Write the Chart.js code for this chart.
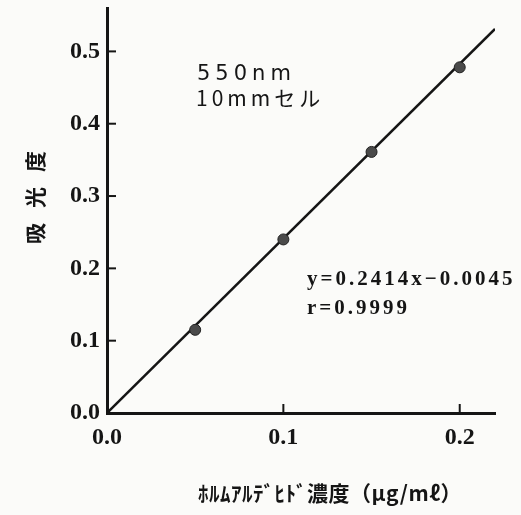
<!DOCTYPE html>
<html lang="ja">
<head>
<meta charset="utf-8">
<title>吸光度 検量線</title>
<script src="https://cdn.jsdelivr.net/npm/chart.js@4/dist/chart.umd.min.js"></script>
<style>
    html, body { margin: 0; padding: 0; background: #fbfbf9; }
    #wrap { width: 521px; height: 515px; }
</style>
</head>
<body>
<div id="wrap"><canvas id="calChart" width="521" height="515"></canvas></div>
<script>
// Dados
const concentration = [0.05, 0.10, 0.15, 0.20];      // μg/ml
const absorbance = [0.115, 0.240, 0.361, 0.478];
const fitX = [0, 0.22];
const fitY = [0, 0.531];
const xTicks = [0.0, 0.1, 0.2];
const yTicks = [0.0, 0.1, 0.2, 0.3, 0.4, 0.5];

const INK = '#151515';
const SERIF = '"Liberation Serif", "DejaVu Serif", serif';
const JP = '"Noto Sans CJK JP", "Noto Sans", sans-serif';

// Marcas internas dos eixos + textos do gráfico
const decorPlugin = {
    id: 'decor',
    beforeDraw(chart) {
        const ctx = chart.ctx;
        ctx.save();
        ctx.fillStyle = '#fbfbf9';
        ctx.fillRect(0, 0, chart.width, chart.height);
        ctx.restore();
    },
    afterDatasetsDraw(chart) {
        const ctx = chart.ctx;
        const xs = chart.scales.x;
        const ys = chart.scales.y;
        ctx.save();
        ctx.strokeStyle = INK;
        ctx.lineWidth = 2;
        // ticks voltados para dentro
        yTicks.forEach(v => {
            if (v === 0) return;
            const py = ys.getPixelForValue(v);
            ctx.beginPath();
            ctx.moveTo(xs.left, py);
            ctx.lineTo(xs.left + 9, py);
            ctx.stroke();
        });
        xTicks.forEach(v => {
            if (v === 0) return;
            const px = xs.getPixelForValue(v);
            ctx.beginPath();
            ctx.moveTo(px, ys.bottom + 2);
            ctx.lineTo(px, ys.bottom - 9);
            ctx.stroke();
        });

        ctx.fillStyle = INK;
        ctx.textBaseline = 'middle';
        ctx.textAlign = 'left';

        // condições de medida
        ctx.font = '21px "DejaVu Sans", sans-serif';
        ctx.letterSpacing = '5px';
        ctx.fillText('550nm', 197, 75);
        ctx.font = '21px ' + JP;
        ctx.letterSpacing = '4px';
        ctx.fillText('10mmセル', 196, 98);

        // equação da reta
        ctx.font = 'bold 21px ' + SERIF;
        ctx.letterSpacing = '3px';
        ctx.fillText('y=0.2414x−0.0045', 307, 280);
        ctx.fillText('r=0.9999', 307, 309);

        // título do eixo x
        ctx.letterSpacing = '0.5px';
        ctx.font = 'bold 21px ' + JP;
        ctx.fillText('ﾎﾙﾑｱﾙﾃﾞﾋﾄﾞ濃度（μg/mℓ）', 198, 493);

        // título do eixo y (rotacionado)
        ctx.translate(35, 197);
        ctx.rotate(-Math.PI / 2);
        ctx.textAlign = 'center';
        ctx.font = 'bold 21px ' + JP;
        ctx.letterSpacing = '15px';
        ctx.fillText('吸光度', 7, 0);
        ctx.restore();
    }
};

new Chart(document.getElementById('calChart').getContext('2d'), {
    type: 'scatter',
    data: {
        datasets: [{
            label: '測定値',
            data: concentration.map((x, i) => ({ x: x, y: absorbance[i] })),
            pointRadius: 5.5,
            pointBackgroundColor: '#4a4a4a',
            pointBorderColor: '#222',
            pointBorderWidth: 1,
            showLine: false,
            order: 0
        }, {
            label: '検量線',
            data: fitX.map((x, i) => ({ x: x, y: fitY[i] })),
            showLine: true,
            borderColor: INK,
            borderWidth: 2.5,
            pointRadius: 0,
            order: 1
        }]
    },
    options: {
        responsive: false,
        animation: false,
        layout: { padding: { top: 8, right: 26, left: 0, bottom: 0 } },
        plugins: {
            legend: { display: false },
            tooltip: { enabled: false }
        },
        scales: {
            x: {
                type: 'linear',
                min: 0,
                max: 0.22,
                afterBuildTicks: s => { s.ticks = xTicks.map(v => ({ value: v })); },
                afterFit: s => { s.height = 102; s.paddingLeft = 0; s.paddingRight = 0; },
                grid: { display: false, drawTicks: false },
                border: { display: true, color: INK, width: 3 },
                ticks: {
                    color: INK,
                    padding: 10,
                    font: { family: SERIF, size: 24, weight: 'bold' },
                    callback: v => v.toFixed(1)
                }
            },
            y: {
                type: 'linear',
                min: 0,
                max: 0.56,
                afterBuildTicks: s => { s.ticks = yTicks.map(v => ({ value: v })); },
                afterFit: s => { s.width = 107; s.paddingTop = 0; s.paddingBottom = 0; },
                grid: { display: false, drawTicks: false },
                border: { display: true, color: INK, width: 3 },
                ticks: {
                    color: INK,
                    padding: 7,
                    font: { family: SERIF, size: 24, weight: 'bold' },
                    callback: v => v.toFixed(1)
                }
            }
        }
    },
    plugins: [decorPlugin]
});
</script>
</body>
</html>
